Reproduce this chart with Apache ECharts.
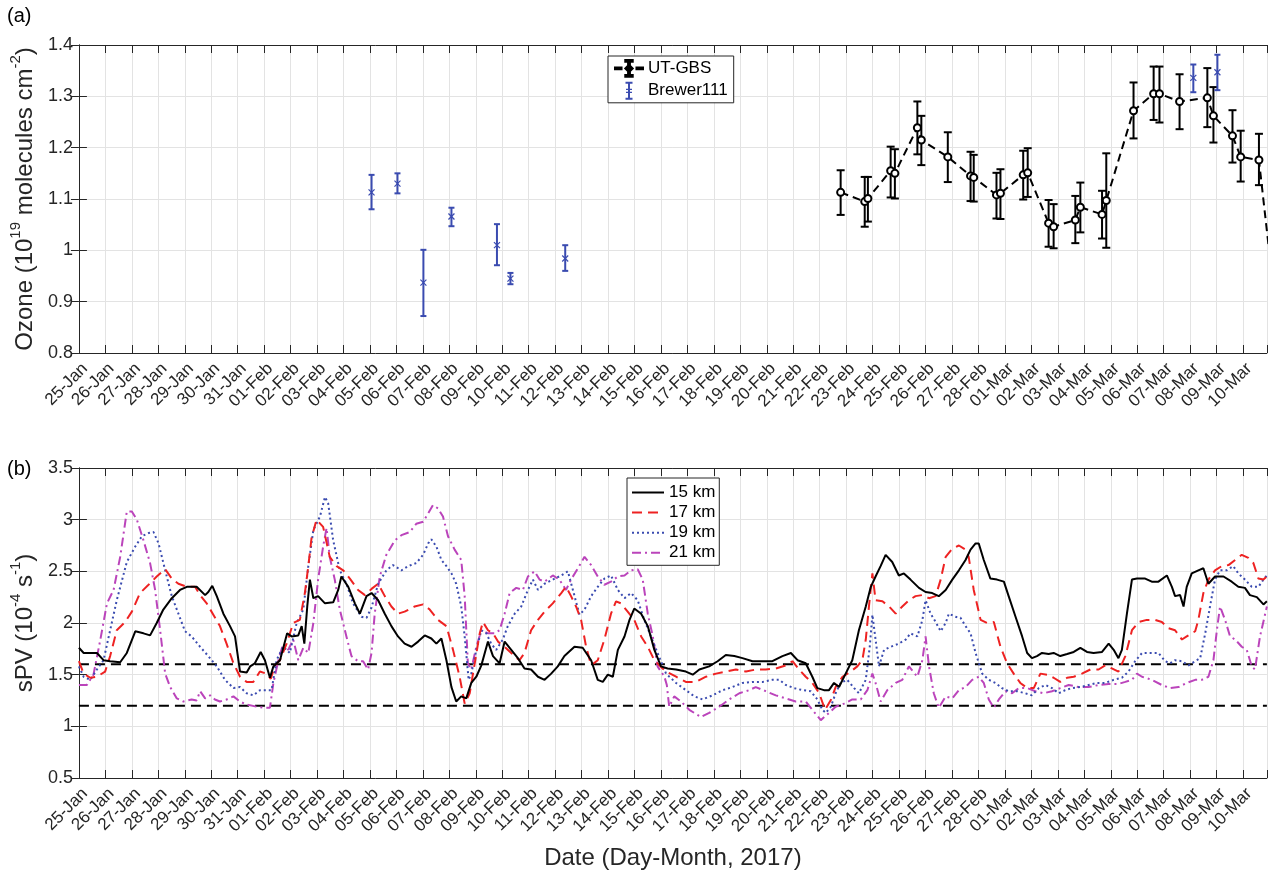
<!DOCTYPE html>
<html>
<head>
<meta charset="utf-8" />
<title>Ozone and sPV</title>
<style>
  html, body { margin: 0; padding: 0; background: #fff; }
  #main { width: 1269px; height: 875px; }
</style>
</head>
<body>
<div id="main"></div>
<script src="https://cdn.jsdelivr.net/npm/echarts@6/dist/echarts.min.js"></script>
<script>
// x = days since 25-Jan-2017 00:00
const dayLabels = [
  '25-Jan', '26-Jan', '27-Jan', '28-Jan', '29-Jan', '30-Jan', '31-Jan',
  '01-Feb', '02-Feb', '03-Feb', '04-Feb', '05-Feb', '06-Feb', '07-Feb', '08-Feb', '09-Feb',
  '10-Feb', '11-Feb', '12-Feb', '13-Feb', '14-Feb', '15-Feb', '16-Feb', '17-Feb', '18-Feb',
  '19-Feb', '20-Feb', '21-Feb', '22-Feb', '23-Feb', '24-Feb', '25-Feb', '26-Feb', '27-Feb', '28-Feb',
  '01-Mar', '02-Mar', '03-Mar', '04-Mar', '05-Mar', '06-Mar', '07-Mar', '08-Mar', '09-Mar', '10-Mar'
];

// (a) UT-GBS ozone columns (1e19 molec/cm2)
const utDay  = [28.79, 29.70, 29.82, 30.68, 30.84, 31.69, 31.84, 32.84, 33.70, 33.82, 34.68, 34.83, 35.69, 35.86, 36.65, 36.84, 37.66, 37.85, 38.67, 38.83, 39.86, 40.62, 40.84, 41.60, 42.65, 42.88, 43.60, 43.91, 44.60, 45.20];
const utVal  = [1.113, 1.095, 1.101, 1.155, 1.150, 1.239, 1.215, 1.182, 1.145, 1.142, 1.108, 1.111, 1.147, 1.151, 1.053, 1.046, 1.059, 1.084, 1.070, 1.097, 1.272, 1.305, 1.305, 1.290, 1.297, 1.262, 1.223, 1.182, 1.176, 0.900];
const utLow  = [1.069, 1.046, 1.056, 1.103, 1.101, 1.187, 1.166, 1.133, 1.096, 1.095, 1.062, 1.061, 1.099, 1.104, 1.007, 1.004, 1.014, 1.035, 1.023, 1.005, 1.218, 1.254, 1.249, 1.236, 1.240, 1.210, 1.171, 1.134, 1.127, 0.850];
const utHigh = [1.156, 1.143, 1.143, 1.202, 1.197, 1.290, 1.262, 1.230, 1.192, 1.186, 1.151, 1.158, 1.194, 1.199, 1.098, 1.090, 1.106, 1.132, 1.116, 1.189, 1.327, 1.358, 1.358, 1.343, 1.355, 1.318, 1.273, 1.233, 1.227, 0.950];

// (a) Brewer111
const brDay  = [11.06, 12.04, 13.02, 14.08, 15.80, 16.31, 18.38, 42.12, 43.03];
const brVal  = [1.113, 1.130, 0.937, 1.066, 1.010, 0.945, 0.984, 1.336, 1.347];
const brLow  = [1.080, 1.111, 0.872, 1.047, 0.971, 0.934, 0.960, 1.308, 1.312];
const brHigh = [1.147, 1.150, 1.001, 1.083, 1.051, 0.956, 1.010, 1.362, 1.381];

// (b) sPV (1e-4 s-1), [day, value]
const spv15 = [[0,1.76],[0.18,1.71],[0.43,1.71],[0.68,1.71],[0.93,1.64],[1.18,1.63],[1.56,1.62],[1.81,1.71],[2.13,1.92],[2.44,1.90],[2.69,1.88],[2.94,2.00],[3.19,2.13],[3.51,2.24],[3.82,2.32],[4.08,2.35],[4.45,2.35],[4.77,2.27],[4.89,2.30],[5.04,2.36],[5.21,2.26],[5.46,2.09],[5.71,1.97],[5.90,1.87],[6.09,1.53],[6.34,1.52],[6.47,1.58],[6.65,1.61],[6.87,1.72],[7.03,1.64],[7.22,1.47],[7.35,1.58],[7.60,1.64],[7.87,1.90],[8.04,1.87],[8.29,1.88],[8.42,1.97],[8.52,1.80],[8.63,2.16],[8.73,2.42],[8.86,2.24],[9.04,2.26],[9.30,2.19],[9.61,2.20],[9.80,2.32],[9.92,2.45],[10.18,2.35],[10.43,2.19],[10.62,2.09],[10.87,2.26],[11.06,2.29],[11.31,2.22],[11.56,2.09],[11.81,1.97],[12.06,1.87],[12.31,1.80],[12.57,1.77],[12.82,1.82],[13.07,1.88],[13.32,1.85],[13.51,1.80],[13.70,1.85],[13.89,1.64],[14.08,1.38],[14.26,1.24],[14.45,1.29],[14.64,1.27],[14.83,1.42],[15.02,1.48],[15.21,1.59],[15.46,1.82],[15.65,1.68],[15.90,1.61],[16.09,1.82],[16.34,1.74],[16.59,1.66],[16.84,1.56],[17.09,1.55],[17.35,1.48],[17.60,1.45],[17.85,1.51],[18.10,1.58],[18.35,1.68],[18.73,1.77],[19.04,1.76],[19.36,1.64],[19.61,1.45],[19.80,1.43],[19.99,1.50],[20.18,1.48],[20.37,1.74],[20.62,1.87],[20.81,2.03],[20.99,2.14],[21.25,2.09],[21.50,1.97],[21.75,1.74],[22.00,1.58],[22.25,1.56],[22.57,1.55],[22.94,1.53],[23.20,1.50],[23.45,1.55],[23.82,1.58],[24.14,1.63],[24.45,1.69],[24.77,1.68],[25.08,1.66],[25.46,1.63],[25.84,1.63],[26.21,1.63],[26.59,1.68],[26.91,1.71],[27.16,1.64],[27.47,1.61],[27.72,1.48],[27.91,1.37],[28.16,1.35],[28.35,1.35],[28.54,1.42],[28.73,1.38],[28.98,1.51],[29.23,1.64],[29.48,1.93],[29.74,2.16],[29.93,2.35],[30.11,2.45],[30.30,2.55],[30.49,2.66],[30.74,2.59],[30.99,2.46],[31.18,2.48],[31.43,2.42],[31.75,2.34],[32.00,2.30],[32.25,2.29],[32.50,2.26],[32.76,2.32],[33.01,2.42],[33.26,2.51],[33.51,2.61],[33.70,2.71],[33.89,2.77],[34.01,2.77],[34.20,2.61],[34.45,2.43],[34.70,2.42],[34.96,2.40],[35.14,2.26],[35.40,2.06],[35.65,1.87],[35.84,1.71],[36.02,1.66],[36.21,1.68],[36.40,1.71],[36.65,1.70],[36.84,1.71],[37.09,1.68],[37.35,1.70],[37.60,1.72],[37.85,1.76],[38.10,1.72],[38.35,1.71],[38.67,1.72],[38.92,1.80],[39.11,1.74],[39.29,1.66],[39.42,1.74],[39.61,2.09],[39.80,2.42],[39.99,2.43],[40.30,2.43],[40.55,2.40],[40.80,2.40],[41.12,2.46],[41.31,2.35],[41.43,2.26],[41.62,2.27],[41.75,2.16],[41.87,2.35],[42.06,2.48],[42.31,2.51],[42.50,2.53],[42.69,2.38],[42.94,2.45],[43.26,2.45],[43.57,2.40],[43.82,2.35],[44.07,2.34],[44.26,2.27],[44.52,2.25],[44.77,2.18],[44.90,2.21]];

const spv17 = [[0,1.63],[0.18,1.51],[0.43,1.47],[0.68,1.48],[0.99,1.53],[1.18,1.68],[1.43,1.93],[1.75,2.01],[2.00,2.11],[2.31,2.29],[2.63,2.37],[2.94,2.45],[3.26,2.52],[3.51,2.43],[3.76,2.38],[4.08,2.35],[4.39,2.35],[4.58,2.27],[4.83,2.19],[5.08,2.08],[5.33,1.97],[5.58,1.80],[5.84,1.61],[6.09,1.48],[6.34,1.43],[6.59,1.43],[6.84,1.53],[7.09,1.51],[7.25,1.46],[7.41,1.59],[7.60,1.64],[7.85,1.80],[8.10,2.00],[8.35,2.03],[8.54,2.29],[8.67,2.55],[8.79,2.82],[8.98,3.00],[9.23,2.93],[9.48,2.64],[9.74,2.55],[9.99,2.51],[10.24,2.43],[10.55,2.32],[10.81,2.27],[11.06,2.33],[11.31,2.38],[11.56,2.26],[11.81,2.16],[12.06,2.09],[12.31,2.11],[12.69,2.16],[13.01,2.18],[13.26,2.13],[13.57,2.03],[13.89,1.97],[14.14,1.74],[14.39,1.48],[14.58,1.22],[14.77,1.32],[14.96,1.61],[15.15,1.90],[15.27,2.01],[15.46,1.93],[15.65,1.90],[15.84,1.82],[16.09,1.77],[16.34,1.71],[16.65,1.64],[16.84,1.71],[17.09,1.93],[17.35,2.03],[17.60,2.11],[17.91,2.19],[18.23,2.29],[18.41,2.35],[18.60,2.26],[18.79,2.16],[18.98,2.03],[19.17,1.77],[19.36,1.59],[19.61,1.64],[19.86,1.84],[20.11,2.09],[20.30,2.21],[20.49,2.19],[20.74,2.11],[20.99,2.03],[21.25,1.87],[21.50,1.77],[21.75,1.64],[22.06,1.56],[22.19,1.53],[22.57,1.48],[22.94,1.43],[23.32,1.43],[23.70,1.48],[24.08,1.51],[24.45,1.53],[24.83,1.55],[25.21,1.53],[25.58,1.55],[25.96,1.55],[26.34,1.56],[26.72,1.59],[26.97,1.63],[27.22,1.55],[27.47,1.48],[27.72,1.42],[27.98,1.32],[28.20,1.16],[28.43,1.26],[28.60,1.38],[28.86,1.48],[29.17,1.53],[29.42,1.58],[29.61,1.64],[29.74,1.84],[29.86,2.16],[29.99,2.48],[30.11,2.22],[30.37,2.21],[30.62,2.16],[30.87,2.09],[31.12,2.16],[31.37,2.22],[31.62,2.26],[31.87,2.27],[32.13,2.24],[32.38,2.26],[32.57,2.42],[32.76,2.64],[33.01,2.72],[33.26,2.75],[33.51,2.71],[33.63,2.64],[33.82,2.32],[34.08,2.03],[34.33,2.00],[34.58,2.01],[34.83,1.77],[35.08,1.61],[35.33,1.51],[35.58,1.42],[35.84,1.37],[36.09,1.37],[36.34,1.51],[36.59,1.50],[36.84,1.47],[37.09,1.43],[37.35,1.47],[37.60,1.48],[37.91,1.51],[38.23,1.55],[38.54,1.55],[38.79,1.59],[39.04,1.56],[39.29,1.53],[39.55,1.68],[39.80,1.93],[40.05,2.01],[40.36,2.03],[40.68,2.03],[40.93,2.01],[41.18,1.95],[41.43,1.93],[41.69,1.84],[41.87,1.87],[42.19,1.92],[42.31,2.03],[42.50,2.29],[42.69,2.42],[42.94,2.51],[43.19,2.55],[43.45,2.56],[43.70,2.61],[43.95,2.66],[44.20,2.63],[44.39,2.58],[44.58,2.43],[44.77,2.42],[44.90,2.45]];

const spv19 = [[0,1.58],[0.18,1.48],[0.43,1.45],[0.68,1.55],[0.93,1.64],[1.18,1.93],[1.43,2.22],[1.81,2.59],[2.13,2.74],[2.38,2.84],[2.63,2.87],[2.82,2.88],[3.01,2.77],[3.26,2.51],[3.51,2.26],[3.76,2.09],[4.01,1.92],[4.26,1.87],[4.58,1.77],[4.89,1.68],[5.21,1.58],[5.52,1.45],[5.84,1.37],[6.09,1.38],[6.34,1.32],[6.59,1.30],[6.84,1.35],[7.09,1.35],[7.28,1.35],[7.47,1.64],[7.72,1.77],[7.97,1.71],[8.23,2.00],[8.48,2.13],[8.67,2.55],[8.86,2.90],[9.11,3.03],[9.30,3.22],[9.42,3.16],[9.61,2.80],[9.86,2.51],[10.11,2.38],[10.36,2.19],[10.68,2.06],[10.87,2.05],[11.06,2.15],[11.31,2.38],[11.62,2.51],[11.87,2.56],[12.19,2.51],[12.44,2.55],[12.75,2.58],[13.01,2.66],[13.20,2.77],[13.32,2.81],[13.51,2.74],[13.70,2.61],[13.89,2.55],[14.08,2.48],[14.26,2.38],[14.45,2.16],[14.58,1.87],[14.73,1.45],[14.83,1.51],[15.02,1.74],[15.21,1.93],[15.40,1.90],[15.58,1.80],[15.77,1.74],[16.02,1.84],[16.21,1.97],[16.47,2.09],[16.72,2.16],[16.97,2.32],[17.16,2.42],[17.35,2.32],[17.60,2.38],[17.91,2.42],[18.23,2.46],[18.48,2.50],[18.67,2.32],[18.92,2.08],[19.11,2.13],[19.36,2.26],[19.61,2.35],[19.86,2.43],[20.11,2.46],[20.37,2.32],[20.62,2.24],[20.87,2.29],[21.12,2.22],[21.37,2.03],[21.62,1.87],[21.87,1.71],[22.13,1.55],[22.19,1.51],[22.57,1.42],[22.94,1.35],[23.26,1.29],[23.57,1.26],[23.95,1.30],[24.33,1.35],[24.70,1.38],[25.08,1.42],[25.46,1.43],[25.84,1.43],[26.21,1.45],[26.47,1.45],[26.72,1.40],[27.03,1.37],[27.35,1.35],[27.66,1.34],[27.91,1.26],[28.10,1.16],[28.23,1.13],[28.42,1.19],[28.60,1.32],[28.79,1.42],[29.04,1.45],[29.30,1.37],[29.48,1.32],[29.74,1.45],[29.89,1.77],[29.99,2.08],[30.11,1.84],[30.24,1.58],[30.43,1.74],[30.68,1.77],[30.99,1.80],[31.25,1.84],[31.43,1.90],[31.69,1.87],[31.88,2.03],[32.00,2.22],[32.19,2.09],[32.38,2.01],[32.57,1.92],[32.76,2.00],[32.88,2.09],[33.13,2.06],[33.32,2.05],[33.51,1.97],[33.70,1.90],[33.89,1.71],[34.14,1.51],[34.39,1.45],[34.64,1.42],[34.89,1.37],[35.14,1.34],[35.46,1.34],[35.77,1.32],[36.02,1.30],[36.28,1.37],[36.53,1.40],[36.78,1.37],[37.03,1.32],[37.28,1.35],[37.53,1.37],[37.85,1.38],[38.16,1.40],[38.48,1.42],[38.79,1.42],[39.11,1.45],[39.42,1.47],[39.67,1.53],[39.92,1.63],[40.18,1.71],[40.49,1.71],[40.80,1.71],[41.06,1.63],[41.24,1.61],[41.43,1.64],[41.69,1.63],[41.94,1.59],[42.19,1.63],[42.38,1.66],[42.57,1.90],[42.75,2.16],[42.94,2.42],[43.13,2.51],[43.38,2.51],[43.63,2.55],[43.82,2.48],[44.07,2.42],[44.33,2.35],[44.58,2.35],[44.77,2.42],[44.90,2.46]];

const spv21 = [[0,1.40],[0.30,1.40],[0.55,1.50],[0.81,1.84],[1.06,2.19],[1.31,2.32],[1.56,2.64],[1.81,3.08],[2.00,3.08],[2.19,3.00],[2.44,2.80],[2.69,2.58],[2.88,2.32],[3.07,1.93],[3.26,1.51],[3.45,1.38],[3.70,1.27],[3.95,1.24],[4.26,1.26],[4.45,1.25],[4.58,1.34],[4.77,1.27],[4.96,1.30],[5.14,1.26],[5.33,1.24],[5.58,1.26],[5.84,1.29],[6.09,1.24],[6.34,1.21],[6.72,1.19],[6.97,1.18],[7.22,1.18],[7.35,1.42],[7.54,1.64],[7.72,1.80],[7.91,1.74],[8.10,1.84],[8.29,1.64],[8.48,1.76],[8.67,1.71],[8.86,2.00],[9.04,2.42],[9.23,2.74],[9.36,2.92],[9.48,2.64],[9.67,2.42],[9.86,2.13],[10.11,1.87],[10.30,1.68],[10.55,1.63],[10.74,1.63],[10.93,1.55],[11.06,1.71],[11.18,2.09],[11.37,2.45],[11.62,2.66],[11.94,2.80],[12.19,2.85],[12.50,2.88],[12.75,2.96],[13.01,2.98],[13.20,3.06],[13.38,3.14],[13.57,3.11],[13.76,3.03],[13.95,2.84],[14.20,2.71],[14.45,2.61],[14.58,2.26],[14.70,1.61],[14.83,1.55],[15.02,1.77],[15.21,1.93],[15.46,1.90],[15.71,1.90],[15.90,1.93],[16.09,2.09],[16.28,2.29],[16.53,2.34],[16.78,2.32],[16.97,2.45],[17.22,2.50],[17.41,2.42],[17.60,2.40],[17.91,2.46],[18.16,2.42],[18.41,2.32],[18.60,2.42],[18.86,2.53],[19.11,2.64],[19.36,2.56],[19.61,2.45],[19.86,2.37],[20.11,2.40],[20.37,2.45],[20.62,2.46],[20.87,2.51],[21.12,2.52],[21.31,2.42],[21.50,2.09],[21.69,1.87],[21.87,1.58],[22.13,1.48],[22.22,1.40],[22.31,1.19],[22.50,1.29],[22.76,1.24],[23.07,1.16],[23.51,1.09],[23.82,1.13],[24.20,1.19],[24.58,1.26],[24.96,1.32],[25.33,1.35],[25.58,1.38],[25.96,1.34],[26.34,1.30],[26.72,1.27],[27.09,1.24],[27.47,1.24],[27.72,1.16],[28.04,1.06],[28.35,1.13],[28.60,1.19],[28.92,1.22],[29.23,1.26],[29.55,1.26],[29.80,1.35],[29.99,1.51],[30.11,1.42],[30.30,1.24],[30.55,1.35],[30.87,1.42],[31.12,1.45],[31.37,1.58],[31.69,1.48],[31.88,1.64],[32.00,1.87],[32.13,1.58],[32.31,1.32],[32.50,1.18],[32.76,1.29],[33.01,1.27],[33.26,1.35],[33.51,1.38],[33.76,1.45],[34.01,1.48],[34.20,1.42],[34.39,1.26],[34.58,1.18],[34.77,1.26],[35.02,1.34],[35.27,1.32],[35.52,1.37],[35.84,1.37],[36.15,1.34],[36.46,1.32],[36.78,1.34],[37.09,1.37],[37.41,1.40],[37.79,1.38],[38.16,1.38],[38.54,1.40],[38.92,1.41],[39.29,1.41],[39.55,1.43],[39.80,1.45],[39.99,1.51],[40.18,1.48],[40.55,1.45],[40.93,1.40],[41.24,1.37],[41.56,1.38],[41.87,1.42],[42.19,1.45],[42.44,1.45],[42.69,1.48],[42.88,1.64],[43.01,1.93],[43.13,2.16],[43.32,2.03],[43.51,1.87],[43.70,1.84],[43.95,1.77],[44.14,1.74],[44.33,1.58],[44.45,1.55],[44.64,1.87],[44.90,2.16]];

// sPV threshold lines
const spvLevels = [1.6, 1.2];

const FONT = '"Liberation Sans", Arial, Helvetica, sans-serif';
const AX = '#262626';
const GRID = '#e3e3e3';
const BLUE = '#3a4bb0';
const XMAX = 44.9;

const chart = echarts.init(document.getElementById('main'));

function xAxes(grid, withLabels, name) {
  const base = {
    type: 'value', gridIndex: grid, min: 0, max: XMAX, interval: 1,
    axisLine: { show: true, lineStyle: { color: AX, width: 1 } },
    axisTick: { show: true, inside: true, length: 8, lineStyle: { color: AX } }
  };
  return [
    Object.assign({}, base, {
      position: 'bottom',
      splitLine: { show: true, lineStyle: { color: GRID, width: 1 } },
      axisLabel: {
        show: withLabels, rotate: 45, margin: 7, fontSize: 17, fontFamily: FONT, color: AX,
        verticalAlign: 'top',
        formatter: v => (Number.isInteger(v) && dayLabels[v]) ? dayLabels[v] : ''
      },
      name: name || '', nameLocation: 'middle', nameGap: 67,
      nameTextStyle: { fontSize: 24, fontFamily: FONT, color: AX, lineHeight: 26 }
    }),
    Object.assign({}, base, { position: 'top', splitLine: { show: false }, axisLabel: { show: false } })
  ];
}

function yAxes(grid, min, max, step, name) {
  const base = {
    type: 'value', gridIndex: grid, min: min, max: max, interval: step,
    axisLine: { show: true, lineStyle: { color: AX, width: 1 } },
    axisTick: { show: true, inside: true, length: 8, lineStyle: { color: AX } }
  };
  return [
    Object.assign({}, base, {
      position: 'left',
      splitLine: { show: true, lineStyle: { color: GRID, width: 1 } },
      axisLabel: { fontSize: 18, fontFamily: FONT, color: AX, margin: 6 },
      name: name, nameLocation: 'middle', nameGap: 33, nameRotate: 90,
      nameTextStyle: {
        fontFamily: FONT, color: AX,
        rich: {
          n: { fontSize: 24, lineHeight: 34, verticalAlign: 'middle', fontFamily: FONT, color: AX },
          s: { fontSize: 15, lineHeight: 15, verticalAlign: 'top', fontFamily: FONT, color: AX }
        }
      }
    }),
    Object.assign({}, base, { position: 'right', splitLine: { show: false }, axisLabel: { show: false } })
  ];
}

function errorBars(color, cap, cross) {
  return function (params, api) {
    const x = api.value(0);
    const lo = api.coord([x, api.value(1)]);
    const hi = api.coord([x, api.value(2)]);
    const mid = api.coord([x, api.value(3)]);
    const st = { stroke: color, lineWidth: 2, fill: null };
    const kids = [
      { type: 'line', shape: { x1: lo[0], y1: lo[1], x2: hi[0], y2: hi[1] }, style: st },
      { type: 'line', shape: { x1: lo[0] - cap, y1: lo[1], x2: lo[0] + cap, y2: lo[1] }, style: st },
      { type: 'line', shape: { x1: hi[0] - cap, y1: hi[1], x2: hi[0] + cap, y2: hi[1] }, style: st }
    ];
    if (cross) {
      const c = 3, cs = { stroke: color, lineWidth: 1.2 };
      kids.push({ type: 'line', shape: { x1: mid[0] - c, y1: mid[1] - c, x2: mid[0] + c, y2: mid[1] + c }, style: cs });
      kids.push({ type: 'line', shape: { x1: mid[0] - c, y1: mid[1] + c, x2: mid[0] + c, y2: mid[1] - c }, style: cs });
    }
    return { type: 'group', children: kids };
  };
}

const utLine = utDay.map((d, i) => [d, utVal[i]]);
const utErr = utDay.map((d, i) => [d, utLow[i], utHigh[i], utVal[i]]);
const brErr = brDay.map((d, i) => [d, brLow[i], brHigh[i], brVal[i]]);

const iconUT = 'path://M0 9h7v2H0z M23 9h7v2h-7z M14 1h2v18h-2z M11 1h8v2h-8z M11 17h8v2h-8z M15 6l4 4l-4 4l-4-4z';
const iconBR = 'path://M14 1h2v18h-2z M11.5 1h7v2h-7z M11.5 17h7v2h-7z M12 8h6v1.2h-6z M12 11h6v1.2h-6z';

function spvSeries(name, data, color, type) {
  return {
    name: name, type: 'line', xAxisIndex: 2, yAxisIndex: 2, data: data,
    symbol: 'none', showSymbol: false, smooth: false, clip: true,
    itemStyle: { color: color },
    lineStyle: { color: color, width: 2, type: type }
  };
}

const option = {
  animation: false,
  backgroundColor: '#fff',
  textStyle: { fontFamily: FONT },
  grid: [
    { left: 77, top: 45, width: 1190, height: 308 },
    { left: 77, top: 468, width: 1190, height: 310 }
  ],
  xAxis: [].concat(xAxes(0, true), xAxes(1, true, 'Date (Day-Month, 2017)')),
  yAxis: [].concat(
    yAxes(0, 0.8, 1.4, 0.1, '{n|Ozone (10}{s|19}{n| molecules cm}{s|-2}{n|)}'),
    yAxes(1, 0.5, 3.5, 0.5, '{n|sPV (10}{s|-4}{n| s}{s|-1}{n|)}')
  ),
  legend: [
    {
      orient: 'vertical', left: 608, top: 56, selectedMode: false,
      data: [{ name: 'UT-GBS', icon: iconUT }, { name: 'Brewer111', icon: iconBR }],
      itemWidth: 28, itemHeight: 18, itemGap: 4, padding: [3, 6, 3, 6],
      borderColor: AX, borderWidth: 1, backgroundColor: '#fff',
      textStyle: { fontSize: 17, fontFamily: FONT, color: '#000' }
    },
    {
      orient: 'vertical', left: 627, top: 478, selectedMode: false,
      data: ['15 km', '17 km', '19 km', '21 km'],
      itemWidth: 32, itemHeight: 14, itemGap: 3.1, padding: [6, 4, 4, 4],
      itemStyle: { opacity: 0 },
      borderColor: AX, borderWidth: 1, backgroundColor: '#fff',
      textStyle: { fontSize: 17, fontFamily: FONT, color: '#000' }
    }
  ],
  graphic: [
    { type: 'text', left: 7, top: 6, style: { text: '(a)', fontSize: 20, fontFamily: FONT, fill: '#000' } },
    { type: 'text', left: 7, top: 459, style: { text: '(b)', fontSize: 20, fontFamily: FONT, fill: '#000' } }
  ],
  series: [
    {
      name: 'UT-GBS', type: 'line', xAxisIndex: 0, yAxisIndex: 0, data: utLine, clip: true, z: 4,
      symbol: 'emptyCircle', symbolSize: 7, showAllSymbol: true,
      itemStyle: { color: '#000', borderColor: '#000', borderWidth: 1.5 },
      lineStyle: { color: '#000', width: 2, type: [8, 5] }
    },
    {
      name: 'UT-GBS', type: 'custom', xAxisIndex: 0, yAxisIndex: 0, data: utErr, clip: true, z: 3,
      itemStyle: { color: '#000' },
      encode: { x: 0, y: [1, 2, 3] },
      renderItem: errorBars('#000', 4, false)
    },
    {
      name: 'Brewer111', type: 'custom', xAxisIndex: 0, yAxisIndex: 0, data: brErr, clip: true, z: 3,
      itemStyle: { color: BLUE },
      encode: { x: 0, y: [1, 2, 3] },
      renderItem: errorBars(BLUE, 3, true)
    },
    {
      name: 'lvl16', type: 'line', xAxisIndex: 2, yAxisIndex: 2, z: 1, silent: true,
      data: [[0, spvLevels[0]], [XMAX, spvLevels[0]]], symbol: 'none',
      lineStyle: { color: '#000', width: 2, type: [10, 6] }
    },
    {
      name: 'lvl12', type: 'line', xAxisIndex: 2, yAxisIndex: 2, z: 1, silent: true,
      data: [[0, spvLevels[1]], [XMAX, spvLevels[1]]], symbol: 'none',
      lineStyle: { color: '#000', width: 2, type: [10, 6] }
    },
    spvSeries('21 km', spv21, '#bb44bb', [9, 4, 2, 4]),
    spvSeries('19 km', spv19, BLUE, [2, 3]),
    spvSeries('17 km', spv17, '#ee2222', [10, 6]),
    spvSeries('15 km', spv15, '#000', 'solid')
  ]
};

// series drawn magenta first so the 15 km line sits on top
chart.setOption(option);
</script>
</body>
</html>
